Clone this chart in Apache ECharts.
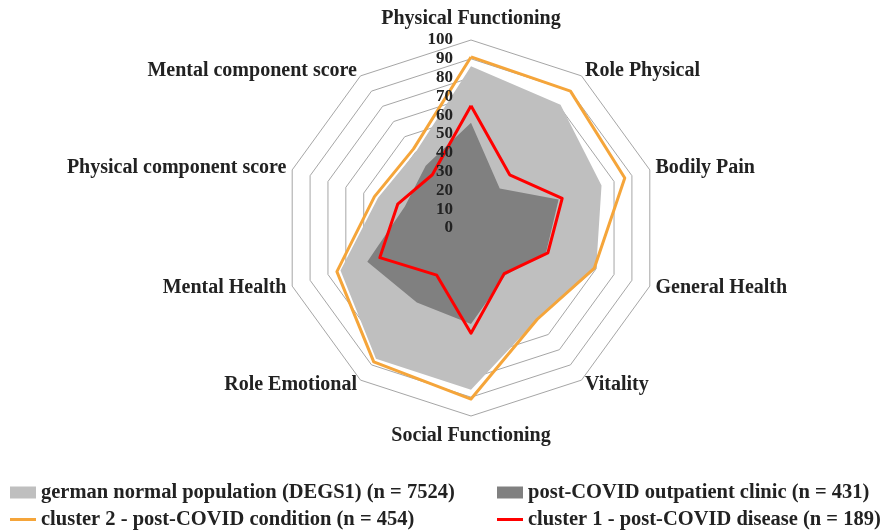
<!DOCTYPE html>
<html>
<head>
<meta charset="utf-8">
<script src="https://cdn.jsdelivr.net/npm/echarts@6/dist/echarts.min.js"></script>
<style>
html, body { margin: 0; padding: 0; background: #fff; }
#main { width: 882px; height: 530px; }
</style>
</head>
<body>
<div id="main"></div>
<script>
// SF-36 scales, listed clockwise starting at the top
const scales = ['Physical Functioning', 'Role Physical', 'Bodily Pain', 'General Health', 'Vitality',
  'Social Functioning', 'Role Emotional', 'Mental Health', 'Physical component score', 'Mental component score'];
const germanNorm = [86, 81, 73, 70, 60, 86, 86, 73, 52, 50];
const outpatient = [56, 26, 49, 42, 31, 51, 49, 58, 37, 41];
const cluster2 = [91, 90, 86, 69, 60, 91, 88, 75, 54, 52];
const cluster1 = [65, 35, 51, 43, 30, 56, 31, 51, 41, 35];
const scaleMax = 100;
const scaleSplits = 10;
const seriesNames = [
  'german normal population (DEGS1) (n = 7524)',
  'post-COVID outpatient clinic (n = 431)',
  'cluster 2 - post-COVID condition (n = 454)',
  'cluster 1 - post-COVID disease (n = 189)'
];

// echarts radar runs counter-clockwise, so keep the first axis and flip the rest
const ccw = arr => [arr[0]].concat(arr.slice(1).reverse());

const serif = '"Liberation Serif", "Times New Roman", serif';
const ink = '#222';
const center = [471, 228];
const radius = 188;

const indicators = ccw(scales).map(n => ({ name: n, min: 0, max: scaleMax }));
// same axes again, only the first one carries tick labels (drawn above the fills)
const labelIndicators = ccw(scales).map((n, i) => {
  const ind = { name: n, min: 0, max: scaleMax };
  if (i === 0) ind.axisLabel = { show: true };
  return ind;
});

const legendText = { color: ink, fontFamily: serif, fontWeight: 'bold', fontSize: 20.5 };
const mkLegend = (name, left, top, h) => ({
  data: [name], left: left, top: top, padding: 0, icon: 'rect',
  itemWidth: 26, itemHeight: h, selectedMode: false, textStyle: legendText
});

const chart = echarts.init(document.getElementById('main'));
chart.setOption({
  animation: false,
  backgroundColor: '#fff',
  radar: [{
    center: center,
    radius: radius,
    startAngle: 90,
    shape: 'polygon',
    splitNumber: scaleSplits,
    nameGap: 6,
    indicator: indicators,
    axisName: {
      color: ink, fontFamily: serif, fontWeight: 'bold', fontSize: 20,
      verticalAlign: 'middle',
      formatter: function (name) {
        if (name === scales[0]) return '{t|' + name + '}';
        if (name === scales[5]) return '{b|' + name + '}';
        return name;
      },
      rich: {
        t: { padding: [0, 0, 30, 0], color: ink, fontFamily: serif, fontWeight: 'bold', fontSize: 20 },
        b: { padding: [28, 0, 0, 0], color: ink, fontFamily: serif, fontWeight: 'bold', fontSize: 20 }
      }
    },
    splitLine: { lineStyle: { color: '#a6a6a6', width: 1 } },
    splitArea: { show: false },
    axisLine: { show: false },
    axisTick: { show: false },
    axisLabel: { show: false }
  }, {
    z: 10,
    center: center,
    radius: radius,
    startAngle: 90,
    shape: 'polygon',
    splitNumber: scaleSplits,
    indicator: labelIndicators,
    axisName: { show: false },
    splitLine: { show: false },
    splitArea: { show: false },
    axisLine: { show: false },
    axisTick: { show: false },
    axisLabel: { show: false, margin: 18, color: ink, fontFamily: serif, fontWeight: 'bold', fontSize: 17 }
  }],
  legend: [
    mkLegend(seriesNames[0], 10, 482, 12),
    mkLegend(seriesNames[1], 497, 482, 12),
    mkLegend(seriesNames[2], 10, 509, 3),
    mkLegend(seriesNames[3], 497, 509, 3)
  ],
  series: [{
    type: 'radar',
    radarIndex: 0,
    symbol: 'none',
    data: [
      { name: seriesNames[0], value: ccw(germanNorm), itemStyle: { color: '#bfbfbf' },
        lineStyle: { width: 0 }, areaStyle: { color: '#bfbfbf', opacity: 1 } },
      { name: seriesNames[1], value: ccw(outpatient), itemStyle: { color: '#808080' },
        lineStyle: { width: 0 }, areaStyle: { color: '#808080', opacity: 1 } },
      { name: seriesNames[2], value: ccw(cluster2), itemStyle: { color: '#f5a53a' },
        lineStyle: { color: '#f5a53a', width: 3 } },
      { name: seriesNames[3], value: ccw(cluster1), itemStyle: { color: '#ff0000' },
        lineStyle: { color: '#ff0000', width: 3 } }
    ]
  }]
});
</script>
</body>
</html>
